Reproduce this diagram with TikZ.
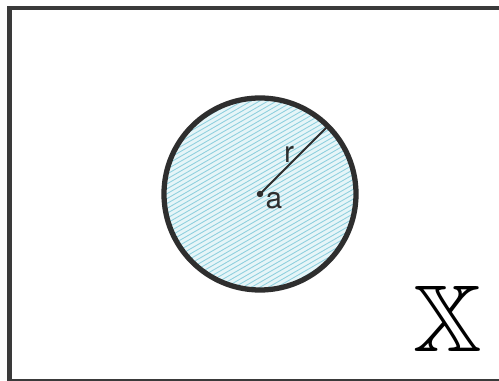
\documentclass[tikz,border=0pt]{standalone}
\usepackage{amsmath,amssymb}
\usepackage{fontspec}
\setmainfont{TeX Gyre Heros}
\usepackage{xcolor}
\usepackage{tikz}
\usetikzlibrary{positioning,calc}
\definecolor{frameGray}{HTML}{3A3A3A}
\definecolor{ballEdge}{HTML}{2E2E2E}
\definecolor{hatchCyan}{HTML}{8FD0DE}
\definecolor{ballFill}{HTML}{E6F5F8}

\begin{document}
\begin{tikzpicture}
      \useasboundingbox (0,0) rectangle (9.98,7.62);
      \draw[frameGray, line width=2.3pt] (0.19,0.0) rectangle (10.2,7.46);
      \coordinate (ctr) at (5.2,3.74);
      \coordinate (rim) at ($(ctr)+(45:1.92)$);
      \fill[ballFill] (ctr) circle (1.92);
      \begin{scope}
        \clip (ctr) circle (1.92);
        \foreach \k in {-24,...,24}
          \draw[hatchCyan, line width=0.5pt]
            ($(ctr)+(120:\k*0.085)+(30:-2.2)$) -- ($(ctr)+(120:\k*0.085)+(30:2.2)$);
      \end{scope}
      \draw[ballEdge, line width=3pt] (ctr) circle (1.92);
      \draw[ballEdge, line width=1.1pt] (ctr) -- (rim);
      \fill[ballEdge] (ctr) circle (0.065);
      \node[font=\fontsize{17}{19}\selectfont, ballEdge, inner sep=0pt] (lblA) at ($(ctr)+(0.28,-0.14)$) {a};
      \node[font=\fontsize{17}{19}\selectfont, ballEdge, inner sep=0pt] (lblR) at ($(ctr)+(0.58,0.8)$) {r};
      \node[font=\fontsize{54}{60}\selectfont] (space) at (8.95,1.24) {$\mathbb{X}$};
    \end{tikzpicture}
\end{document}
